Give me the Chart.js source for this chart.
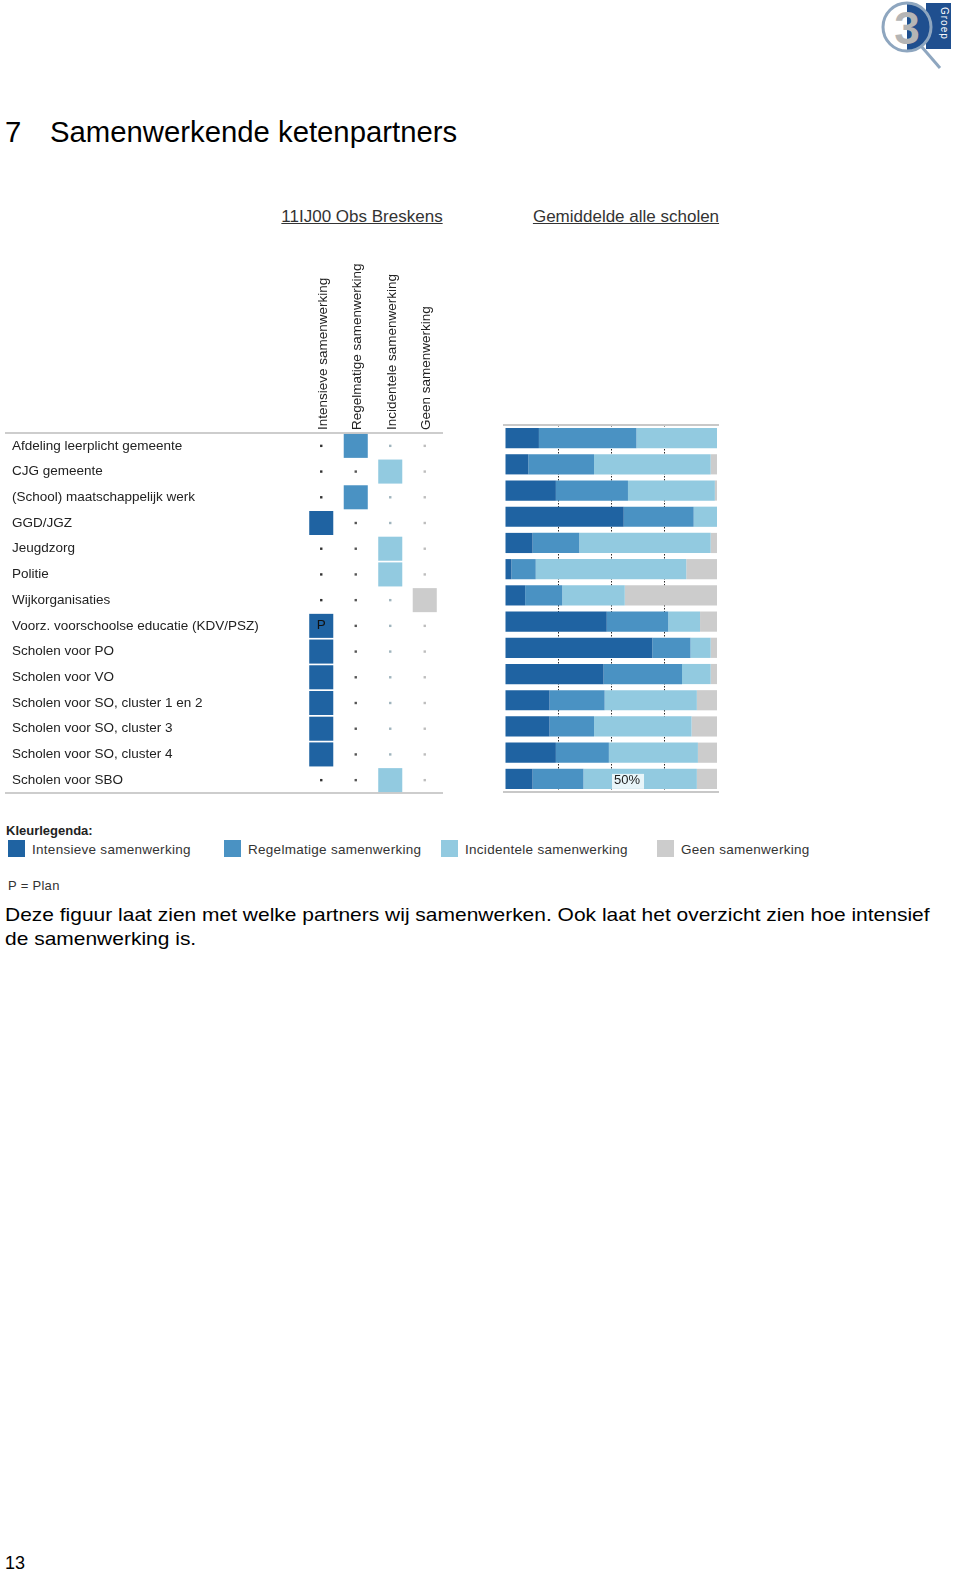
<!DOCTYPE html>
<html lang="nl">
<head>
<meta charset="utf-8">
<title>Samenwerkende ketenpartners</title>
<script src="https://cdn.jsdelivr.net/npm/chart.js@4.4.1/dist/chart.umd.min.js"></script>
<style>
  html, body { margin: 0; padding: 0; background: #fff; }
  body {
    width: 960px; height: 1572px; position: relative; overflow: hidden;
    font-family: "Liberation Sans", Arial, sans-serif; color: #000;
  }
  .abs { position: absolute; white-space: nowrap; line-height: 1; }
  .title { font-size: 29.3px; top: 117px; }
  .head { font-size: 17px; top: 208px; color: #333; text-decoration: underline; text-align: center; }
  .legend-title { left: 6px; top: 824px; font-size: 13px; font-weight: bold; color: #222; }
  .legend-item { top: 840px; font-size: 13.5px; color: #333; }
  .legend-item span.sw { position: absolute; left: 0; top: 0; width: 17px; height: 17px; }
  .legend-item span.tx { position: absolute; left: 24px; top: 3px; letter-spacing: 0.28px; }
  .body-text { left: 5px; font-size: 19px; transform: scaleX(1.104); transform-origin: 0 0; }
  canvas { position: absolute; }
</style>
</head>
<body>

<!-- logo -->
<svg class="abs" style="left:874px; top:0px" width="86" height="72" viewBox="0 0 86 72">
  <rect x="52" y="3" width="25" height="46" fill="#1f4f8f"/>
  <path d="M33 3 A24 24 0 0 1 33 51 Z" fill="#1f4f8f"/>
  <circle cx="33" cy="27" r="24" fill="none" stroke="#8ea6bf" stroke-width="3"/>
  <line x1="47" y1="46" x2="66" y2="68" stroke="#8ea6bf" stroke-width="3"/>
  <text x="33" y="44" font-family="Liberation Sans, Arial" font-weight="bold" font-size="46" fill="#b5b5b5" text-anchor="middle">3</text>
  <text x="0" y="0" transform="translate(67,7) rotate(90)" font-family="Liberation Sans, Arial" font-size="10" fill="#fff" letter-spacing="1">Groep</text>
</svg>

<div class="abs title" style="left:5px">7</div>
<div class="abs title" style="left:50px">Samenwerkende ketenpartners</div>

<div class="abs head" style="left:262px; width:200px">11IJ00 Obs Breskens</div>
<div class="abs head" style="left:516px; width:220px">Gemiddelde alle scholen</div>

<canvas id="schoolChart" width="450" height="546" style="left:0px; top:250px"></canvas>
<canvas id="avgChart" width="222" height="385" style="left:500px; top:415px"></canvas>

<div class="abs legend-title">Kleurlegenda:</div>
<div id="legend"></div>
<div class="abs" style="left:8px; top:879px; font-size:13px; color:#333; letter-spacing:0.3px">P = Plan</div>

<div class="abs body-text" style="top:905px">Deze figuur laat zien met welke partners wij samenwerken. Ook laat het overzicht zien hoe intensief</div>
<div class="abs body-text" style="top:929px">de samenwerking is.</div>

<div class="abs" style="left:5px; top:1554px; font-size:18px">13</div>

<script>
// ---- DATA ----
const partners = [
  'Afdeling leerplicht gemeente',
  'CJG gemeente',
  '(School) maatschappelijk werk',
  'GGD/JGZ',
  'Jeugdzorg',
  'Politie',
  'Wijkorganisaties',
  'Voorz. voorschoolse educatie (KDV/PSZ)',
  'Scholen voor PO',
  'Scholen voor VO',
  'Scholen voor SO, cluster 1 en 2',
  'Scholen voor SO, cluster 3',
  'Scholen voor SO, cluster 4',
  'Scholen voor SBO'
];
const levels = [
  'Intensieve samenwerking',
  'Regelmatige samenwerking',
  'Incidentele samenwerking',
  'Geen samenwerking'
];

// Obs Breskens: chosen level per partner (index into levels)
const schoolLevel = [1, 2, 1, 0, 2, 2, 3, 0, 0, 0, 0, 0, 0, 2];
const planMarks = ['', '', '', '', '', '', '', 'P', '', '', '', '', '', ''];

// Gemiddelde alle scholen (percentages)
const avgIntensief   = [16, 11, 24, 56, 13, 3, 9.5, 48, 69.5, 46.5, 21, 21, 24, 13];
const avgRegelmatig  = [46, 31, 34, 33, 22, 11.5, 17.5, 29, 18, 37, 26, 21, 25, 24];
const avgIncidenteel = [38, 55, 41, 11, 62, 71, 29.5, 15, 9.5, 13.5, 43.5, 46, 42, 53.5];
const avgGeen        = [0, 3, 1, 0, 3, 14.5, 43.5, 8, 3, 3, 9.5, 12, 9, 9.5];

const dottedTicks = [25, 50, 75];
const midLabel = '50%';

// ---- STYLE ----
const levelColors = ['#1f63a2', '#4a92c3', '#92cae0', '#cccccc'];
const dotColors = ['#333333', '#555555', '#9fb4bd', '#bdbdbd'];
const fontFamily = '"Liberation Sans", Arial, sans-serif';

Chart.defaults.font.family = fontFamily;
Chart.defaults.animation = false;

// horizontal rules at top and bottom of a chart area
const frameLines = {
  id: 'frameLines',
  afterDraw(chart, args, opts) {
    const { ctx, chartArea } = chart;
    ctx.save();
    ctx.strokeStyle = opts.color || '#bbb';
    ctx.lineWidth = opts.width || 1.5;
    const x0 = opts.from != null ? opts.from : chartArea.left - (opts.extend || 0);
    const x1 = chartArea.right + (opts.extend || 0);
    [chartArea.top, chartArea.bottom].forEach(y => {
      ctx.beginPath();
      ctx.moveTo(x0, y);
      ctx.lineTo(x1, y);
      ctx.stroke();
    });
    ctx.restore();
  }
};

// "P" inside the planned square
const planLetters = {
  id: 'planLetters',
  afterDatasetsDraw(chart) {
    const { ctx, scales } = chart;
    ctx.save();
    ctx.font = '13.5px ' + fontFamily;
    ctx.fillStyle = '#111';
    ctx.textAlign = 'center';
    ctx.textBaseline = 'middle';
    planMarks.forEach((m, i) => {
      if (!m) return;
      const x = scales.x.getPixelForValue(schoolLevel[i]);
      const y = scales.y.getPixelForValue(i);
      ctx.fillText(m, x, y - 1);
    });
    ctx.restore();
  }
};

// "50%" label on the bottom bar
const midMarker = {
  id: 'midMarker',
  afterDraw(chart) {
    const { ctx, scales } = chart;
    const x = scales.x.getPixelForValue(50);
    const y = scales.y.getPixelForValue(partners.length - 1);
    ctx.save();
    ctx.font = '13px ' + fontFamily;
    const w = ctx.measureText(midLabel).width;
    ctx.fillStyle = 'rgba(240,248,251,0.92)';
    ctx.fillRect(x + 1, y - 5, w + 6, 15);
    ctx.fillStyle = '#222';
    ctx.textBaseline = 'middle';
    ctx.fillText(midLabel, x + 3, y + 2);
    ctx.restore();
  }
};

// ---- LEFT: matrix of the school ----
const schoolDatasets = levels.map((lvl, li) => ({
  label: lvl,
  data: partners.map(p => ({ x: lvl, y: p })),
  pointStyle: 'rect',
  pointRadius: ctx => schoolLevel[ctx.dataIndex] === li ? 17 : 1.7,
  pointHoverRadius: ctx => schoolLevel[ctx.dataIndex] === li ? 17 : 1.7,
  pointBackgroundColor: ctx => schoolLevel[ctx.dataIndex] === li ? levelColors[li] : dotColors[li],
  pointBorderWidth: 0,
  showLine: false
}));

new Chart(document.getElementById('schoolChart'), {
  type: 'scatter',
  data: { datasets: schoolDatasets },
  options: {
    responsive: false,
    events: [],
    layout: { autoPadding: false, padding: { left: 12, right: 8, top: 0, bottom: 3 } },
    plugins: {
      legend: { display: false },
      tooltip: { enabled: false },
      frameLines: { from: 5, extend: 1, color: '#bdbdbd', width: 1.5 }
    },
    scales: {
      x: {
        type: 'category',
        labels: levels,
        position: 'top',
        offset: true,
        grid: { display: false, drawTicks: false },
        border: { display: false },
        ticks: {
          autoSkip: false, minRotation: 90, maxRotation: 90, padding: 3,
          labelOffset: 18, color: '#222', font: { size: 13.5 }
        },
        afterFit: s => { s.height = 183; s.paddingLeft = 0; s.paddingRight = 0; }
      },
      y: {
        type: 'category',
        labels: partners,
        offset: true,
        grid: { display: false, drawTicks: false },
        border: { display: false },
        ticks: { autoSkip: false, crossAlign: 'far', padding: 0, color: '#222', font: { size: 13.5 } },
        afterFit: s => { s.width = 292; s.paddingTop = 0; s.paddingBottom = 0; }
      }
    }
  },
  plugins: [frameLines, planLetters]
});

// ---- RIGHT: average of all schools ----
const avgSeries = [avgIntensief, avgRegelmatig, avgIncidenteel, avgGeen];

new Chart(document.getElementById('avgChart'), {
  type: 'bar',
  data: {
    labels: partners,
    datasets: levels.map((lvl, li) => ({
      label: lvl,
      data: avgSeries[li],
      backgroundColor: levelColors[li],
      borderWidth: 0,
      barPercentage: 0.77,
      categoryPercentage: 1
    }))
  },
  options: {
    indexAxis: 'y',
    responsive: false,
    events: [],
    layout: { padding: { left: 5, right: 5, top: 10, bottom: 8 } },
    plugins: {
      legend: { display: false },
      tooltip: { enabled: false },
      frameLines: { extend: 2, color: '#c8c8c8', width: 2 }
    },
    scales: {
      x: {
        stacked: true,
        min: 0,
        max: 100,
        z: 1,
        ticks: { display: false, stepSize: 25 },
        grid: {
          drawTicks: false,
          color: c => dottedTicks.includes(c.tick.value) ? '#2a2a2a' : 'rgba(0,0,0,0)',
          lineWidth: 1
        },
        border: { display: false, dash: [1.5, 1.5] },
        afterFit: s => { s.height = 0; }
      },
      y: {
        stacked: true,
        display: false
      }
    }
  },
  plugins: [frameLines, midMarker]
});

// ---- LEGEND ----
const legendLefts = [8, 224, 441, 657];
const legendEl = document.getElementById('legend');
levels.forEach((lvl, i) => {
  const d = document.createElement('div');
  d.className = 'abs legend-item';
  d.style.left = legendLefts[i] + 'px';
  d.innerHTML = '<span class="sw" style="background:' + levelColors[i] + '"></span><span class="tx">' + lvl + '</span>';
  legendEl.appendChild(d);
});
</script>
</body>
</html>
